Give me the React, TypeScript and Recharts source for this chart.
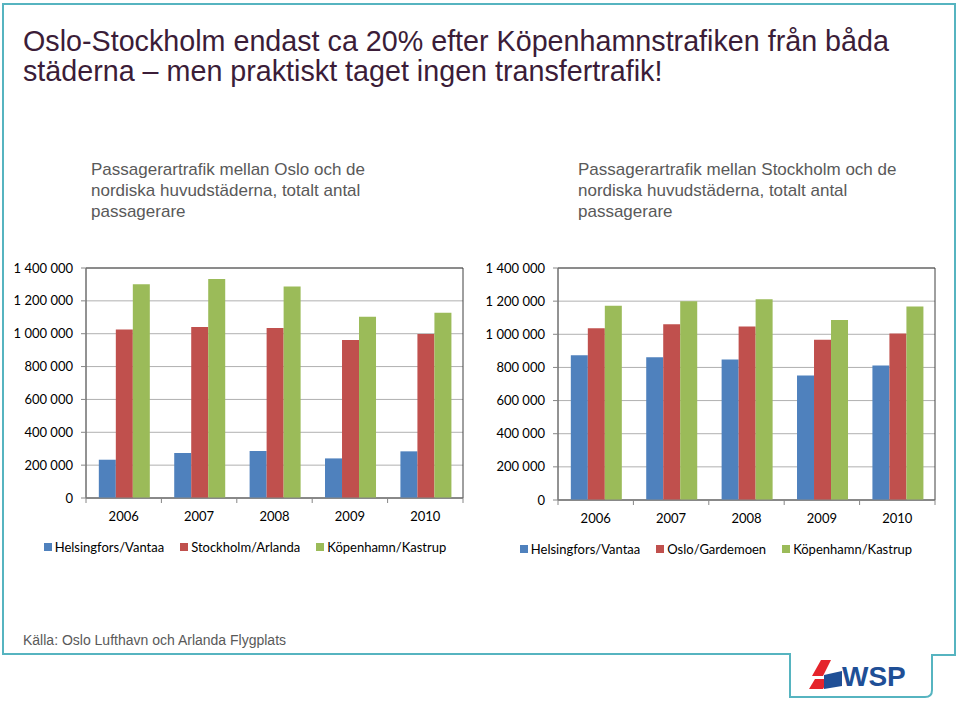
import {
	Bar,
	BarChart,
	CartesianGrid,
	Legend,
	ReferenceArea,
	XAxis,
	YAxis
} from "recharts"


// years on the x axis (same for both charts)
const years = ["2006", "2007", "2008", "2009", "2010"]

// left chart: traffic from Oslo
const osloToHelsinki = [233000, 274000, 286000, 241000, 284000]
const osloToStockholm = [1025000, 1041000, 1035000, 962000, 998000]
const osloToCopenhagen = [1301000, 1333000, 1288000, 1104000, 1128000]

// right chart: traffic from Stockholm
const sthlmToHelsinki = [874000, 862000, 848000, 751000, 812000]
const sthlmToOslo = [1037000, 1060000, 1047000, 967000, 1005000]
const sthlmToCopenhagen = [1172000, 1200000, 1211000, 1086000, 1168000]

const yTicks = [0, 200000, 400000, 600000, 800000, 1000000, 1200000, 1400000]

const BLUE = "#4f81bd"
const RED = "#c0504d"
const GREEN = "#9bbb59"
const AXIS_FONT = "Lato, 'Open Sans', sans-serif"
const TEXT_FONT = "'Liberation Sans', Arial, sans-serif"

const TICK_SIZE = 5
const X_TICK_MARGIN = 6


const formatThousands = (v: number) =>
	String(v).replace(/\B(?=(\d{3})+(?!\d))/g, " ")


// year label + excel-style tick marks between the categories
function YearTick(props: any) {
	const { x, y, payload, index, plotW } = props
	const bw = plotW / years.length
	const axisY = y - TICK_SIZE - X_TICK_MARGIN
	return (
		<g>
			<line x1={x - bw / 2} x2={x - bw / 2} y1={axisY} y2={axisY + TICK_SIZE} stroke="#868686" />
			{index === years.length - 1 && (
				<line x1={x + bw / 2} x2={x + bw / 2} y1={axisY} y2={axisY + TICK_SIZE} stroke="#868686" />
			)}
			<text
				x={x}
				y={y}
				dy={12}
				textAnchor="middle"
				fill="#000"
				fontSize={13}
				fontFamily={AXIS_FONT}
			>
				{payload.value}
			</text>
		</g>
	)
}


type Series = { name: string; color: string; values: number[] }

// legend keeps the series order (recharts would sort it by name)
function LegendRow({ series, shift }: { series: Series[]; shift: number }) {
	return (
		<div
			style={{
				display: "flex",
				justifyContent: "center",
				paddingLeft: shift,
				fontFamily: AXIS_FONT,
				fontSize: 13,
				lineHeight: "20px",
				color: "#000"
			}}
		>
			{series.map(s => (
				<span
					key={s.name}
					style={{ display: "flex", alignItems: "center", margin: "0 8px" }}
				>
					<span
						style={{
							width: 8,
							height: 8,
							background: s.color,
							marginRight: 3,
							display: "inline-block"
						}}
					/>
					{s.name}
				</span>
			))}
		</div>
	)
}


function ChartPanel(
	{
		left,
		top,
		plotH,
		yAxisW,
		series
	}: {
		left: number
		top: number
		plotH: number
		yAxisW: number
		series: Series[]
	}
) {
	const width = 480
	const marginTop = 13
	const marginRight = 480 - 377 - yAxisW
	const xAxisH = 39
	const legendH = 20
	const marginBottom = 5
	const height = marginTop + plotH + xAxisH + legendH + marginBottom
	const plotW = width - yAxisW - marginRight

	const data = years.map((year, i) => {
		const row: Record<string, string | number> = { year }
		series.forEach(s => {
			row[s.name] = s.values[i]
		})
		return row
	})

	return (
		<div style={{ position: "absolute", left, top }}>
			<BarChart
				width={width}
				height={height}
				data={data}
				margin={{ top: marginTop, right: marginRight, bottom: marginBottom, left: 0 }}
				barCategoryGap="17%"
				barGap={0}
			>
				<CartesianGrid vertical={false} stroke="#b0b0b0" />
				<ReferenceArea
					y1={0}
					y2={1400000}
					fill="none"
					stroke="#404040"
					ifOverflow="visible"
				/>
				<XAxis
					dataKey="year"
					height={xAxisH}
					tickSize={TICK_SIZE}
					tickMargin={X_TICK_MARGIN}
					tickLine={false}
					axisLine={{ stroke: "#868686" }}
					interval={0}
					tick={(p: any) => <YearTick {...p} plotW={plotW} />}
				/>
				<YAxis
					width={yAxisW}
					domain={[0, 1400000]}
					ticks={yTicks}
					interval={0}
					tickSize={TICK_SIZE}
					tickMargin={8}
					tickFormatter={formatThousands}
					axisLine={{ stroke: "#868686" }}
					tickLine={{ stroke: "#868686" }}
					tick={{ fill: "#000", fontSize: 13, fontFamily: AXIS_FONT }}
				/>
				<Legend
					verticalAlign="bottom"
					height={legendH}
					content={() => <LegendRow series={series} shift={marginRight} />}
				/>
				{series.map(s => (
					<Bar
						key={s.name}
						dataKey={s.name}
						fill={s.color}
						isAnimationActive={false}
					/>
				))}
			</BarChart>
		</div>
	)
}


const subtitleStyle: React.CSSProperties = {
	position: "absolute",
	top: 159,
	fontFamily: TEXT_FONT,
	fontSize: 17,
	lineHeight: "21px",
	color: "#595959",
	width: 330
}


export default function App() {
	return (
		<div
			style={{
				position: "absolute",
				left: 0,
				top: 0,
				width: 960,
				height: 701,
				background: "#fff",
				overflow: "hidden"
			}}
		>
			<svg width={960} height={701} style={{ position: "absolute", left: 0, top: 0 }}>
				<path
					d="M3,4 H955 V655 H932 V690 Q932,697 925,697 H790 V654 H3 Z"
					fill="none"
					stroke="#56b4c0"
					strokeWidth={2}
				/>
				{/* WSP logo */}
				<polygon points="812,676 821,660 831,660 823,676" fill="#e5242b" />
				<polygon points="809,689 815,679 829,679 823,689" fill="#e5242b" />
				<polygon points="824,675 842,671 842,686 824,689" fill="#1f4f96" />
				<text
					x={842}
					y={686}
					fontFamily={TEXT_FONT}
					fontWeight="bold"
					fontSize={28}
					fill="#1f4f96"
				>
					WSP
				</text>
			</svg>

			<div
				style={{
					position: "absolute",
					left: 23,
					top: 26,
					fontFamily: TEXT_FONT,
					fontSize: 28.7,
					lineHeight: "30px",
					color: "#3b1d38",
					whiteSpace: "nowrap"
				}}
			>
				Oslo-Stockholm endast ca 20% efter Köpenhamnstrafiken från båda
				<br />
				städerna – men praktiskt taget ingen transfertrafik!
			</div>

			<div style={{ ...subtitleStyle, left: 91 }}>
				Passagerartrafik mellan Oslo och de nordiska huvudstäderna, totalt antal passagerare
			</div>
			<div style={{ ...subtitleStyle, left: 578 }}>
				Passagerartrafik mellan Stockholm och de nordiska huvudstäderna, totalt antal passagerare
			</div>

			<ChartPanel
				left={5}
				top={255}
				plotH={230}
				yAxisW={81}
				series={[
					{ name: "Helsingfors/Vantaa", color: BLUE, values: osloToHelsinki },
					{ name: "Stockholm/Arlanda", color: RED, values: osloToStockholm },
					{ name: "Köpenhamn/Kastrup", color: GREEN, values: osloToCopenhagen }
				]}
			/>
			<ChartPanel
				left={476}
				top={255}
				plotH={232}
				yAxisW={82}
				series={[
					{ name: "Helsingfors/Vantaa", color: BLUE, values: sthlmToHelsinki },
					{ name: "Oslo/Gardemoen", color: RED, values: sthlmToOslo },
					{ name: "Köpenhamn/Kastrup", color: GREEN, values: sthlmToCopenhagen }
				]}
			/>

			<div
				style={{
					position: "absolute",
					left: 23,
					top: 632,
					fontFamily: TEXT_FONT,
					fontSize: 14,
					color: "#595959",
					whiteSpace: "nowrap"
				}}
			>
				Källa: Oslo Lufthavn och Arlanda Flygplats
			</div>
		</div>
	)
}
